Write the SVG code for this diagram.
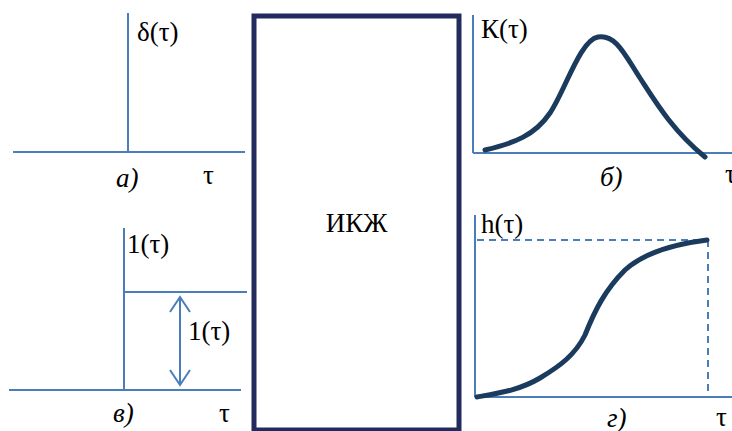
<svg xmlns="http://www.w3.org/2000/svg" width="732" height="431" viewBox="0 0 732 431">
<defs>
<style>
.ax{stroke:#4a7ebb;stroke-width:2;fill:none}
.dash{stroke:#4a7ebb;stroke-width:2;fill:none;stroke-dasharray:7,5}
.crv{stroke:#1b3b5e;stroke-width:5;fill:none;stroke-linecap:round;stroke-linejoin:round}
</style>
</defs>
<rect width="732" height="431" fill="#fff"/>
<g font-family="Liberation Serif, DejaVu Serif, serif" font-size="27" fill="#000">
<g id="box">
<rect x="254" y="16" width="205" height="414" fill="#fff" stroke="#232a5e" stroke-width="5"/>
<text x="356.5" y="232" text-anchor="middle">ИКЖ</text>
</g>
<g id="panel-a">
<line class="ax" x1="128" y1="13" x2="128" y2="152"/>
<line class="ax" x1="13" y1="152" x2="245" y2="152"/>
<text x="137" y="41">δ(τ)</text>
<text font-style="italic" x="116" y="187">а)</text>
<text x="203" y="184">τ</text>
</g>
<g id="panel-v">
<line class="ax" x1="124" y1="228" x2="124" y2="390"/>
<line class="ax" x1="9" y1="390" x2="241" y2="390"/>
<line class="ax" x1="124" y1="292" x2="247" y2="292"/>
<line class="ax" x1="180" y1="297" x2="180" y2="385"/>
<polyline class="ax" points="170,312 180,297 190,312"/>
<polyline class="ax" points="170,370 180,385 190,370"/>
<text x="127" y="253">1(τ)</text>
<text x="188" y="340">1(τ)</text>
<text font-style="italic" x="113" y="422">в)</text>
<text x="219" y="422">τ</text>
</g>
<g id="panel-b">
<line class="ax" x1="473" y1="15" x2="473" y2="153"/>
<line class="ax" x1="473" y1="153" x2="732" y2="153"/>
<path class="crv" d="M485,150 C515,143 535,135 550,113 S580,40 598,37 S625,55 640,78 S672,130 705,157"/>
<text x="481" y="38">К(τ)</text>
<text font-style="italic" x="600" y="186">б)</text>
<text x="725" y="183">τ</text>
</g>
<g id="panel-g">
<line class="ax" x1="475" y1="215" x2="475" y2="397"/>
<line class="ax" x1="475" y1="397" x2="732" y2="397"/>
<line class="dash" x1="477" y1="240" x2="708" y2="240"/>
<line class="dash" x1="708" y1="240" x2="708" y2="397"/>
<path class="crv" d="M477,397 C500,393 520,390 540,378 C560,366 575,355 585,335 C595,310 605,290 625,270 C645,252 675,244 707,240"/>
<text x="481" y="233">h(τ)</text>
<text font-style="italic" x="607" y="427">г)</text>
<text x="716" y="426">τ</text>
</g>
</g>
</svg>
